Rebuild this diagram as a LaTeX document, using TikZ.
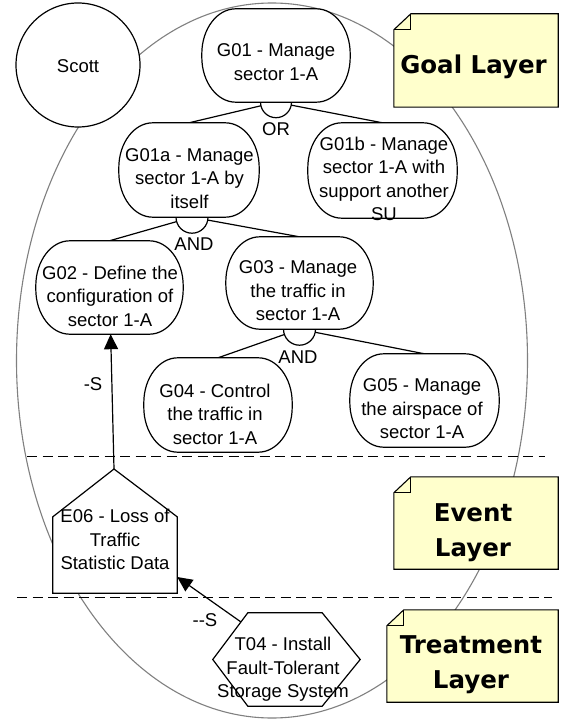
\documentclass[tikz,border=0pt]{standalone}
\usepackage{fontspec}
\setmainfont{Liberation Sans}
\newfontfamily\notefont{DejaVu Sans}
\usetikzlibrary{arrows.meta}
\pgfdeclarelayer{back}
\pgfdeclarelayer{mid}
\pgfsetlayers{back,mid,main}
\definecolor{noteyellow}{RGB}{255,255,204}
\definecolor{ellgray}{RGB}{128,128,128}
\newcommand\notedraw[1]{%
  \begin{pgfonlayer}{mid}
  \draw[line width=1.1pt, fill=noteyellow, line join=miter]
    ([yshift=-16pt]#1.north west) -- ([xshift=17pt]#1.north west) -- (#1.north east)
    -- (#1.south east) -- (#1.south west) -- cycle;
  \draw[line width=1.1pt, line join=miter]
    ([yshift=-16pt]#1.north west) -- ([xshift=17pt,yshift=-16pt]#1.north west)
    -- ([xshift=17pt]#1.north west);
  \end{pgfonlayer}}
\newcommand\goaldraw[1]{%
  \draw[line width=1.2pt, fill=white]
    ([xshift=34pt]#1.north west) -- ([xshift=-34pt]#1.north east)
    arc[start angle=90, end angle=0, x radius=34pt, y radius=45pt]
    -- ([yshift=45pt]#1.south east)
    arc[start angle=0, end angle=-90, x radius=34pt, y radius=45pt]
    -- ([xshift=34pt]#1.south west)
    arc[start angle=270, end angle=180, x radius=34pt, y radius=45pt]
    -- ([yshift=-45pt]#1.north west)
    arc[start angle=180, end angle=90, x radius=34pt, y radius=45pt] -- cycle;}
\newcommand\andarc[2]{%
  \begin{pgfonlayer}{mid}
  \draw[line width=1.2pt, fill=white] ([xshift=-#2]#1.south) arc[start angle=180, end angle=360, radius=#2];
  \end{pgfonlayer}}
\begin{document}
\begin{tikzpicture}[x=1pt,y=-1pt,
  goalbox/.style={draw=none, fill=none, minimum width=148pt, minimum height=93pt, inner sep=0pt},
  ghost/.style={draw=none, fill=none, inner sep=0pt},
  txt/.style={align=center, font=\fontsize{18.5}{23.5}\selectfont, inner sep=0pt},
  notetxt/.style={align=center, font=\notefont\bfseries\fontsize{24.5}{35}\selectfont, inner sep=0pt},
  conn/.style={line width=1.2pt},
  arr/.style={line width=1.2pt, -{Triangle[length=15pt,width=14pt]}},
  sepline/.style={line width=1.2pt, dash pattern=on 10pt off 5.5pt},
]
\useasboundingbox (0,0) rectangle (563,722);

% background: scope ellipse and layer separators
\begin{pgfonlayer}{back}
  \fill[white] (0,0) rectangle (563,722);
  \draw[ellgray, line width=1.1pt] (272,360.5) ellipse [x radius=255.5pt, y radius=357.5pt];
  \draw[sepline] (27,456.5) -- (545,456.5);
  \draw[sepline] (17,597.5) -- (552,597.5);
\end{pgfonlayer}

% actor
\node[draw, circle, line width=1.2pt, fill=white, minimum size=124pt, inner sep=0pt] (scott) at (78,65) {};
\node[txt] (scottt) at (78,66.5) {Scott};

% goals
\node[goalbox] (g01) at (276,55.5) {};
\goaldraw{g01}
\node[txt] (g01t) at (276,62) {G01 - Manage\\sector 1-A};
\node[goalbox, minimum width=140pt, minimum height=94pt] (g01a) at (189,170) {};
\goaldraw{g01a}
\node[txt] (g01at) at (189.5,178.5) {G01a - Manage\\sector 1-A by\\itself};
\node[goalbox, minimum width=149pt, minimum height=95pt] (g01b) at (382.5,170.5) {};
\goaldraw{g01b}
\node[txt] (g01bt) at (384,179) {G01b - Manage\\sector 1-A with\\support another\\SU};
\node[goalbox, minimum width=147pt] (g02) at (109.5,287.5) {};
\goaldraw{g02}
\node[txt] (g02t) at (110,296) {G02 - Define the\\configuration of\\sector 1-A};
\node[goalbox, minimum width=147pt, minimum height=92pt] (g03) at (299.5,283) {};
\goaldraw{g03}
\node[txt] (g03t) at (298,291) {G03 - Manage\\the traffic in\\sector 1-A};
\node[goalbox, minimum height=94pt] (g04) at (218,405) {};
\goaldraw{g04}
\node[txt] (g04t) at (215,414) {G04 - Control\\the traffic in\\sector 1-A};
\node[goalbox, minimum width=149pt] (g05) at (424.5,400.5) {};
\goaldraw{g05}
\node[txt] (g05t) at (422,409) {G05 - Manage\\the airspace of\\sector 1-A};

% event (house shape)
\node[ghost, minimum width=124pt, minimum height=76pt] (e06) at (115,555) {};
\coordinate (e06apex) at (114,469);
\draw[line width=1.2pt, fill=white, line join=miter]
  (e06.south west) -- (e06.north west) -- (e06apex) -- (e06.north east) -- (e06.south east) -- cycle;
\node[txt] (e06t) at (115,539.5) {E06 - Loss of\\Traffic\\Statistic Data};

% treatment (hexagon)
\node[ghost, minimum width=147pt, minimum height=93pt] (t04) at (286.5,659.5) {};
\draw[line width=1.2pt, fill=white, line join=miter]
  (t04.west) -- ([xshift=35pt]t04.north west) -- ([xshift=-38pt]t04.north east)
  -- (t04.east) -- ([xshift=-38pt]t04.south east) -- ([xshift=35pt]t04.south west) -- cycle;
\node[txt] (t04t) at (283,669.5) {T04 - Install\\Fault-Tolerant\\Storage System};
\coordinate (t04a) at (241,622);

% decomposition links
\begin{pgfonlayer}{mid}
  \draw[conn] (g01.south) -- (g01a.north);
  \draw[conn] (g01.south) -- (g01b.north);
  \draw[conn] ([xshift=3pt]g01a.south) -- (g02.north);
  \draw[conn] ([xshift=3pt]g01a.south) -- (g03.north);
  \draw[conn] (g03.south) -- (g04.north);
  \draw[conn] (g03.south) -- (g05.north);
  \draw[arr] (e06apex) -- (g02);
  \draw[arr] (t04a) -- ([yshift=-22pt]e06.east);
\end{pgfonlayer}
\andarc{g01}{15.5pt}
\begin{pgfonlayer}{mid}
  \draw[line width=1.2pt, fill=white] ([xshift=-13pt]g01a.south) arc[start angle=180, end angle=360, radius=16pt];
\end{pgfonlayer}
\andarc{g03}{16pt}
\node[txt] (orlbl) at (276,129) {OR};
\node[txt] (and1) at (194,244.5) {AND};
\node[txt] (and2) at (298,357) {AND};
\node[txt] (s1) at (93,384) {-S};
\node[txt] (s2) at (205,620) {-{}-S};

% layer notes
\node[ghost, minimum width=164pt, minimum height=93pt] (goalnote) at (476,60.5) {};
\notedraw{goalnote}
\node[notetxt, anchor=base] (goalnotet) at (473.5,73.9) {Goal Layer};
\node[ghost, minimum width=164pt, minimum height=92pt] (eventnote) at (476,523) {};
\notedraw{eventnote}
\node[notetxt] (eventnotet) at (473,532.3) {Event\\Layer};
\node[ghost, minimum width=171pt, minimum height=92pt] (treatnote) at (472.5,656) {};
\notedraw{treatnote}
\node[notetxt] (treatnotet) at (471,664.4) {Treatment\\Layer};
\end{tikzpicture}
\end{document}
